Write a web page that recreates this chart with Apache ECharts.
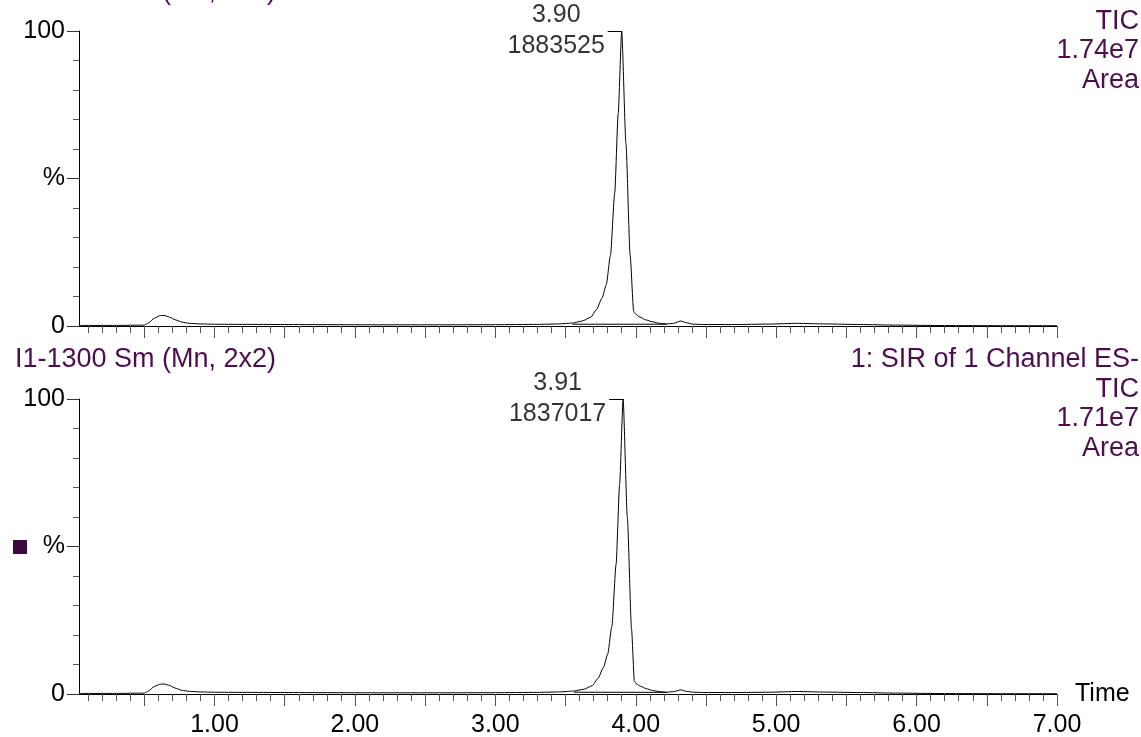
<!DOCTYPE html>
<html>
<head>
<meta charset="utf-8">
<script src="https://cdn.jsdelivr.net/npm/echarts@6/dist/echarts.min.js"></script>
<style>
  html, body { margin: 0; padding: 0; background: #ffffff; }
  #chart { width: 1141px; height: 737px; }
</style>
</head>
<body>
<div id="chart"></div>
<script>
// Upper chromatogram: retention time (min) and relative intensity (%)
const topTime = [0.035, 0.30, 0.50, 0.53, 0.57, 0.61, 0.64, 0.68, 0.72, 0.77, 0.82, 0.90, 1.00, 1.20, 1.50, 1.80, 2.20, 2.60, 3.00, 3.30, 3.45, 3.55, 3.62, 3.68, 3.72, 3.76, 3.79, 3.82, 3.85, 3.875, 3.90, 3.93, 3.96, 3.985, 4.00, 4.03, 4.07, 4.12, 4.17, 4.22, 4.27, 4.32, 4.36, 4.41, 4.50, 4.70, 4.95, 5.15, 5.35, 5.60, 5.85, 6.20, 6.60, 7.00];
const topIntensity = [0.2, 0.2, 0.3, 1.0, 2.6, 3.5, 3.6, 3.0, 2.1, 1.3, 0.9, 0.7, 0.6, 0.55, 0.5, 0.45, 0.4, 0.4, 0.45, 0.55, 0.7, 1.0, 1.7, 3.0, 5.5, 9.5, 14, 24, 45, 72, 100, 62, 24, 5.0, 4.0, 3.0, 2.1, 1.4, 0.9, 0.7, 0.9, 1.7, 1.1, 0.6, 0.5, 0.5, 0.65, 0.9, 0.7, 0.5, 0.3, 0.15, 0.1, 0.1];

// Lower chromatogram
const bottomTime = [0.035, 0.30, 0.50, 0.53, 0.57, 0.61, 0.64, 0.68, 0.72, 0.77, 0.82, 0.90, 1.00, 1.20, 1.50, 1.80, 2.20, 2.60, 3.00, 3.30, 3.45, 3.56, 3.63, 3.69, 3.73, 3.77, 3.80, 3.83, 3.86, 3.885, 3.91, 3.94, 3.97, 3.99, 4.005, 4.035, 4.075, 4.12, 4.17, 4.22, 4.27, 4.32, 4.36, 4.41, 4.50, 4.70, 4.95, 5.15, 5.35, 5.60, 5.85, 6.20, 6.60, 7.00];
const bottomIntensity = [0.2, 0.2, 0.3, 1.0, 2.5, 3.3, 3.4, 2.9, 2.0, 1.2, 0.9, 0.7, 0.6, 0.55, 0.5, 0.45, 0.4, 0.4, 0.45, 0.55, 0.7, 1.0, 1.6, 2.8, 5.2, 9.0, 13.5, 23, 44, 71, 100, 60, 22, 4.4, 3.4, 2.6, 1.8, 1.2, 0.8, 0.6, 0.8, 1.4, 0.9, 0.6, 0.5, 0.5, 0.6, 0.85, 0.65, 0.5, 0.3, 0.15, 0.1, 0.1];

// Integration baselines under the main peak: [start rt, start %, end rt, end %]
const topBaseline = [3.55, 0.6, 4.22, 0.6];
const bottomBaseline = [3.56, 0.6, 4.22, 0.55];

// Peak annotations
const peakRT = [3.90, 3.91];
const peakHeight = [100, 100];
const peakArea = [1883525, 1837017];

// Trace headers
const traceNames = ['I1-1200 Sm (Mn, 2x2)', 'I1-1300 Sm (Mn, 2x2)'];
const channelInfo = [
  ['1: SIR of 1 Channel ES-', 'TIC', '1.74e7', 'Area'],
  ['1: SIR of 1 Channel ES-', 'TIC', '1.71e7', 'Area']
];

// Axis ticks and labels
const xLabelValues = [1, 2, 3, 4, 5, 6, 7];
const xMajorTicks = [0.5, 1, 1.5, 2, 2.5, 3, 3.5, 4, 4.5, 5, 5.5, 6, 6.5, 7];
const xMinorTicks = [0.1, 0.2, 0.3, 0.4, 0.6, 0.7, 0.8, 0.9, 1.1, 1.2, 1.3, 1.4, 1.6, 1.7, 1.8, 1.9,
  2.1, 2.2, 2.3, 2.4, 2.6, 2.7, 2.8, 2.9, 3.1, 3.2, 3.3, 3.4, 3.6, 3.7, 3.8, 3.9,
  4.1, 4.2, 4.3, 4.4, 4.6, 4.7, 4.8, 4.9, 5.1, 5.2, 5.3, 5.4, 5.6, 5.7, 5.8, 5.9,
  6.1, 6.2, 6.3, 6.4, 6.6, 6.7, 6.8, 6.9];
const yLabelValues = [0, 50, 100];
const yLabelText = ['0', '%', '100'];
const yMinorTicks = [10, 20, 30, 40, 60, 70, 80, 90];

const X_MIN = 0.035, X_MAX = 7.0;
const FONT = '"Liberation Sans", Arial, Helvetica, sans-serif';
const HEADER_COLOR = '#4a0f4c';

const traces = [
  { time: topTime, val: topIntensity, base: topBaseline, top: 31 },
  { time: bottomTime, val: bottomIntensity, base: bottomBaseline, top: 399 }
];

const grids = [], xAxes = [], yAxes = [], series = [], graphics = [];

traces.forEach((tr, i) => {
  grids.push({ left: 79, right: 84, top: tr.top, height: 295, outerBoundsMode: 'none', containLabel: false });

  // main x axis: line, long ticks every 0.5, labels on the lower trace
  xAxes.push({
    type: 'value', gridIndex: i, position: 'bottom', min: X_MIN, max: X_MAX,
    axisLine: { show: true, onZero: false, lineStyle: { color: '#000', width: 1 } },
    axisTick: { show: true, customValues: xMajorTicks, length: 12, lineStyle: { color: '#555', width: 1 } },
    axisLabel: {
      show: i === 1, customValues: xLabelValues, margin: 19,
      formatter: v => v.toFixed(2), color: '#000', fontFamily: FONT, fontSize: 25
    },
    splitLine: { show: false },
    name: i === 1 ? 'Time' : '', nameLocation: 'end', nameGap: 18,
    nameTextStyle: { color: '#000', fontFamily: FONT, fontSize: 25, verticalAlign: 'middle', padding: [4, 0, 0, 0] }
  });
  // short ticks every 0.1
  xAxes.push({
    type: 'value', gridIndex: i, position: 'bottom', min: X_MIN, max: X_MAX,
    axisLine: { show: false, onZero: false },
    axisTick: { show: true, customValues: xMinorTicks, length: 7, lineStyle: { color: '#555', width: 1 } },
    axisLabel: { show: false }, splitLine: { show: false }
  });

  yAxes.push({
    type: 'value', gridIndex: i, position: 'left', min: 0, max: 100,
    axisLine: { show: true, onZero: false, lineStyle: { color: '#000', width: 1 } },
    axisTick: { show: true, customValues: yLabelValues, length: 12, lineStyle: { color: '#333', width: 1 } },
    axisLabel: {
      customValues: yLabelValues, margin: 14,
      formatter: v => yLabelText[yLabelValues.indexOf(v)],
      color: '#000', fontFamily: FONT, fontSize: 25
    },
    splitLine: { show: false }
  });
  yAxes.push({
    type: 'value', gridIndex: i, position: 'left', min: 0, max: 100,
    axisLine: { show: false, onZero: false },
    axisTick: { show: true, customValues: yMinorTicks, length: 6, lineStyle: { color: '#555', width: 1 } },
    axisLabel: { show: false }, splitLine: { show: false }
  });

  const xi = i * 2, yi = i * 2;

  series.push({
    type: 'line', xAxisIndex: xi, yAxisIndex: yi,
    data: tr.time.map((t, k) => [t, tr.val[k]]),
    showSymbol: false, smooth: 0.2, smoothMonotone: 'x',
    lineStyle: { color: '#000', width: 1 }, silent: true, animation: false
  });
  series.push({
    type: 'line', xAxisIndex: xi, yAxisIndex: yi,
    data: [[tr.base[0], tr.base[1]], [tr.base[2], tr.base[3]]],
    showSymbol: false, lineStyle: { color: '#000', width: 1 }, silent: true, animation: false
  });

  const rt = peakRT[i], h = peakHeight[i];
  series.push({
    type: 'scatter', xAxisIndex: xi, yAxisIndex: yi,
    data: [[rt, h]], symbolSize: 1, itemStyle: { color: 'rgba(0,0,0,0)' },
    silent: true, animation: false,
    label: {
      show: true, position: 'left', distance: 16, color: '#000',
      formatter: () => '{a|' + rt.toFixed(2) + '}\n{a|' + peakArea[i] + '}',
      rich: { a: { width: 98, align: 'center', fontSize: 25, lineHeight: 31, color: '#000', fontFamily: FONT } }
    },
    markLine: {
      silent: true, symbol: ['none', 'none'], animation: false,
      lineStyle: { color: '#000', width: 1, type: 'solid' },
      label: { show: false },
      data: [[{ coord: [rt - 0.1, h] }, { coord: [rt, h] }]]
    }
  });

  // header block sits just above each plot area
  const headerY = tr.top - 54;
  graphics.push({
    type: 'text', x: 15, y: headerY, silent: true,
    style: { text: traceNames[i], fill: HEADER_COLOR, font: '27px ' + FONT, align: 'left', verticalAlign: 'top', lineHeight: 29.5 }
  });
  graphics.push({
    type: 'text', x: 1139, y: headerY, silent: true,
    style: { text: channelInfo[i].join('\n'), fill: HEADER_COLOR, font: '27px ' + FONT, align: 'right', verticalAlign: 'top', lineHeight: 29.5 }
  });
});

// legend swatch beside the lower trace
graphics.push({
  type: 'rect', shape: { x: 13, y: 540, width: 14, height: 14 },
  style: { fill: '#3d0a3f' }, silent: true
});

const chart = echarts.init(document.getElementById('chart'), null, { renderer: 'canvas' });
chart.setOption({
  animation: false,
  backgroundColor: '#ffffff',
  textStyle: { fontFamily: FONT },
  grid: grids,
  xAxis: xAxes,
  yAxis: yAxes,
  series: series,
  graphic: graphics
});
</script>
</body>
</html>
